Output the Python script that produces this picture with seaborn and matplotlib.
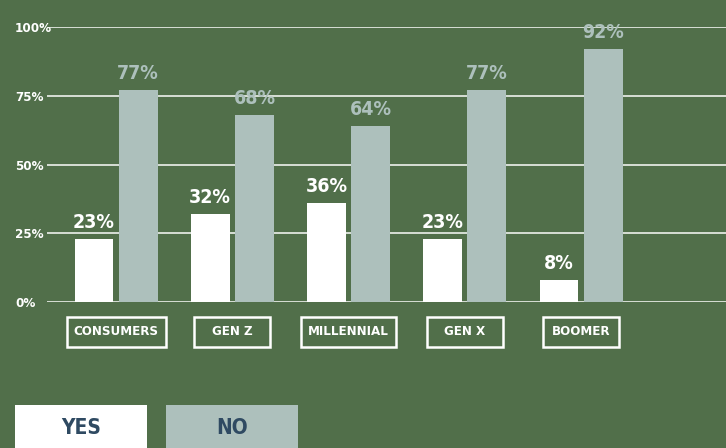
import matplotlib
matplotlib.use('Agg')
import matplotlib.pyplot as plt
import matplotlib.transforms as mtransforms
from matplotlib import font_manager
from matplotlib.patches import Rectangle
import pandas as pd
import seaborn as sns

# data
categories = ['CONSUMERS', 'GEN Z', 'MILLENNIAL', 'GEN X', 'BOOMER']
yes_vals = [23, 32, 36, 23, 8]
no_vals = [77, 68, 64, 77, 92]
y_ticks = [0, 25, 50, 75, 100]
tick_labels = ['0%', '25%', '50%', '75%', '100%']

BG = '#516f4a'
NO_C = '#adc0bc'
NAVY = '#2f4a62'

# prefer a condensed bold face, the original uses a narrow grotesque
cond = [f.fname for f in font_manager.fontManager.ttflist
        if 'condensed' in f.fname.lower() and 'bold' in f.fname.lower()
        and 'oblique' not in f.fname.lower() and 'italic' not in f.fname.lower()]
if cond:
    font_manager.fontManager.addfont(cond[0])
    FP = font_manager.FontProperties(fname=cond[0])
else:
    FP = font_manager.FontProperties(family='DejaVu Sans', weight='bold')


def fp(size):
    p = FP.copy()
    p.set_size(size)
    return p


df = pd.DataFrame({
    'cat': categories * 2,
    'val': yes_vals + no_vals,
    'ans': ['Yes'] * len(categories) + ['No'] * len(categories),
})

sns.set_style('white')

fig = plt.figure(figsize=(7.26, 4.48), dpi=100, facecolor=BG)
ax = fig.add_axes([47 / 726, 146 / 448, 1 - 47 / 726, 275 / 448])
ax.set_facecolor(BG)

sns.barplot(data=df, x='cat', y='val', hue='ans', palette={'Yes': 'white', 'No': NO_C},
            width=0.76, gap=0.12, ax=ax, legend=False, zorder=3, linewidth=0,
            edgecolor='none', saturation=1)

for cont, vals, col in zip(ax.containers, [yes_vals, no_vals], ['white', NO_C]):
    ax.bar_label(cont, labels=[f'{v}%' for v in vals], padding=5, color=col,
                 fontproperties=fp(14))

ax.set_ylim(0, 100)
ax.set_xlim(-0.594, 5.247)
ax.set_yticks(y_ticks)
ax.set_yticklabels(tick_labels, ha='left', color='white', fontproperties=fp(9.5))
ax.tick_params(axis='y', length=0, pad=23)
ax.set_xticks([])
ax.set_xlabel('')
ax.set_ylabel('')
ax.yaxis.grid(True, color='white', lw=1.2, alpha=0.9)
ax.set_axisbelow(True)
for s in ax.spines.values():
    s.set_visible(False)

# category boxes under axis
trans = mtransforms.blended_transform_factory(ax.transData, ax.transAxes)
fig.canvas.draw()
r = fig.canvas.get_renderer()
for i, c in enumerate(categories):
    t = ax.text(i, -0.109, c, transform=trans, ha='center', va='center',
                color='white', fontproperties=fp(9.5), clip_on=False)
    w_px = max(76, t.get_window_extent(r).width + 14)
    w = w_px / (ax.get_window_extent(r).width / (5.247 + 0.594))
    ax.add_patch(Rectangle((i - w / 2, -0.163), w, 0.109, transform=trans,
                           fill=False, ec='white', lw=1.8, clip_on=False))

# legend blocks
for x0, lab, col in [(15, 'YES', 'white'), (166, 'NO', NO_C)]:
    fig.patches.append(Rectangle((x0 / 726, 0), 132 / 726, 43 / 448,
                                 transform=fig.transFigure, fc=col, ec='none'))
    fig.text((x0 + 66) / 726, 20 / 448, lab, ha='center', va='center',
             color=NAVY, fontproperties=fp(15))

fig.savefig('out.png', dpi=100, facecolor=BG)
plt.close()
